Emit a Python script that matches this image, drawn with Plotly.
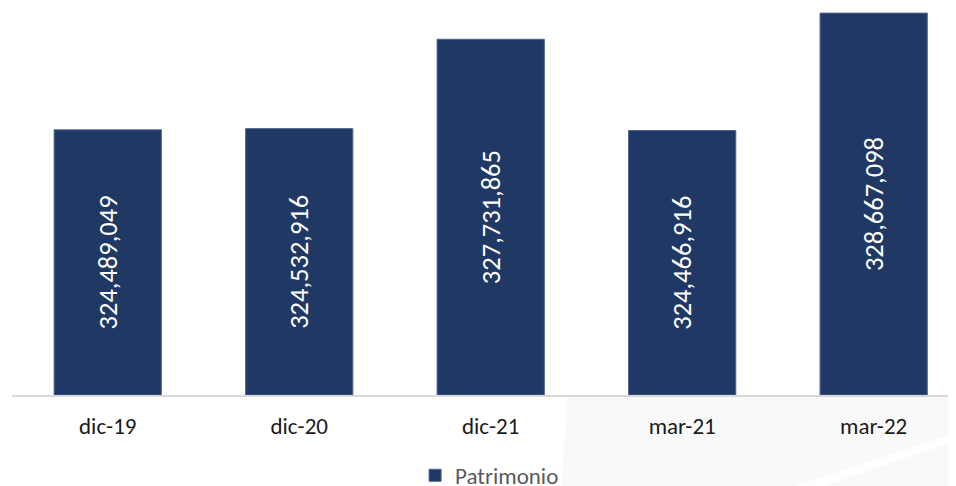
import plotly.graph_objects as go

categories = ["dic-19", "dic-20", "dic-21", "mar-21", "mar-22"]
patrimonio = [324489049, 324532916, 327731865, 324466916, 328667098]
series_name = "Patrimonio"

Y_MIN = 315000000
Y_MAX = 328850000

labels = [f"{v:,}" for v in patrimonio]
heights = [v - Y_MIN for v in patrimonio]

BAR_COLOR = "#203864"
FONT = "Calibri, Carlito, Lato, sans-serif"

fig = go.Figure()
fig.add_trace(go.Bar(
    x=categories,
    y=heights,
    base=[Y_MIN] * len(categories),
    name=series_name,
    marker=dict(color=BAR_COLOR, line=dict(color="#4c6290", width=1)),
    text=labels,
    textposition="inside",
    insidetextanchor="middle",
    textangle=-90,
    constraintext="none",
    textfont=dict(family=FONT, size=26.5, color="white"),
    customdata=patrimonio,
    hovertemplate="%{x}: %{customdata:,}<extra></extra>",
    showlegend=True,
))

fig.update_layout(
    width=956,
    height=486,
    margin=dict(l=4, r=8, t=0, b=99, autoexpand=False),
    paper_bgcolor="white",
    plot_bgcolor="rgba(0,0,0,0)",
    bargap=0.44,
    showlegend=True,
    legend=dict(
        orientation="h",
        x=0.427, xanchor="left",
        y=-0.152, yanchor="top",
        font=dict(family=FONT, size=23, color="#595959"),
        bgcolor="rgba(0,0,0,0)",
    ),
    xaxis=dict(
        range=[-0.5, 4.43],
        automargin=False,
        showline=True, linecolor="#d9d9d9", linewidth=1.5,
        showgrid=False, zeroline=False,
        ticks="outside", ticklen=10, tickcolor="rgba(0,0,0,0)",
        tickfont=dict(family=FONT, size=23, color="#1a1a1a"),
    ),
    yaxis=dict(
        range=[Y_MIN, Y_MAX],
        automargin=False,
        visible=False, showgrid=False, zeroline=False,
    ),
    shapes=[
        dict(type="path", xref="paper", yref="paper", layer="below",
             path="M 0.588 -0.005 L 1.01 -0.005 L 1.01 -0.26 L 0.581 -0.26 Z",
             fillcolor="#f9f9f9", line=dict(width=0)),
        dict(type="path", xref="paper", yref="paper", layer="below",
             path="M 0.80 -0.26 L 1.01 -0.09 L 1.01 -0.11 L 0.83 -0.26 Z",
             fillcolor="#ffffff", line=dict(width=0)),
    ],
)

fig.write_html("out.html")
